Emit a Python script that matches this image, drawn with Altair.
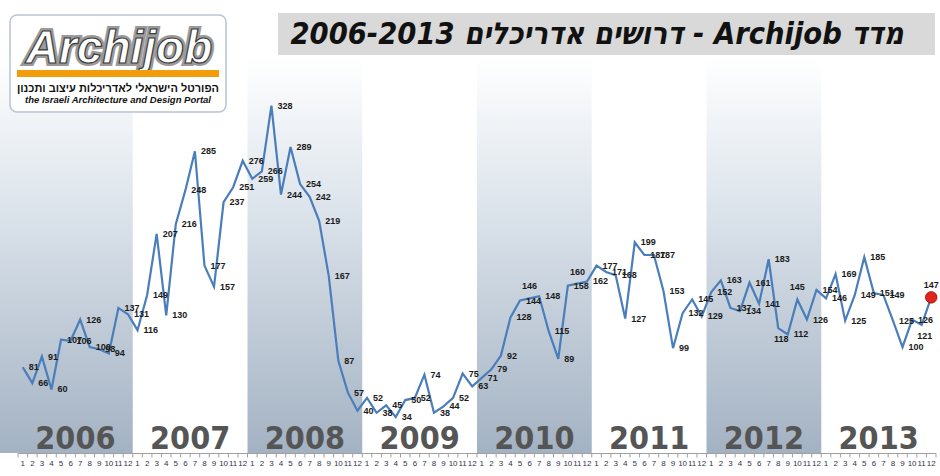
import altair as alt
import pandas as pd

years = [2006, 2007, 2008, 2009, 2010, 2011, 2012, 2013]
v2006 = [81, 66, 91, 60, 107, 106, 126, 100, 98, 94, 137, 131]
v2007 = [116, 149, 207, 130, 216, 248, 285, 177, 157, 237, 251, 276]
v2008 = [259, 266, 328, 244, 289, 254, 242, 219, 167, 87, 57, 40]
v2009 = [52, 38, 45, 34, 50, 52, 74, 38, 44, 52, 75, 63]
v2010 = [71, 79, 92, 128, 144, 146, 148, 115, 89, 158, 160, 162]
v2011 = [177, 171, 168, 127, 199, 187, 187, 153, 99, 132, 145, 129]
v2012 = [152, 163, 137, 134, 161, 141, 183, 118, 112, 145, 126, 154]
v2013 = [146, 169, 125, 149, 185, 151, 149, 125, 100, 126, 121, 147]
month_labels = [str(m) for m in range(1, 13)]

title_text = "מדד Archijob - דרושים אדריכלים  2006-2013"
logo_name = "Archijob"
logo_he = "הפורטל הישראלי לאדריכלות עיצוב ותכנון"
logo_en = "the Israeli Architecture and Design Portal"

values = v2006 + v2007 + v2008 + v2009 + v2010 + v2011 + v2012 + v2013
n = len(values)
df = pd.DataFrame({
    "idx": [i + 0.5 for i in range(n)],
    "value": values,
    "label": [str(v) for v in values],
    "month": month_labels * len(years),
})
# which data labels sit above / below their point instead of to the right
above_pos = [53, 58, 81, 95]
below_pos = [79, 94]
pos = list(range(n))
df_above = df[[p in above_pos for p in pos]]
df_below = df[[p in below_pos for p in pos]]
df_right = df[[(p not in above_pos) and (p not in below_pos) for p in pos]]
df_last = df.iloc[n - 1 :]

df_years = pd.DataFrame({
    "year": [str(y) for y in years],
    "start": [12 * k for k in range(len(years))],
    "end": [12 * k + 12 for k in range(len(years))],
    "mid": [12 * k + 6 for k in range(len(years))],
    "shade": [k % 2 == 0 for k in range(len(years))],
})
df_shade = df_years[df_years["shade"]]
df_bounds = pd.DataFrame({"b": list(range(0, n + 1))})
one = df_years.head(1)

xs = alt.Scale(domain=[0, n], range=[18, 936], nice=False, zero=False)
ys = alt.Scale(domain=[0, 374], range=[453, 57], nice=False, zero=False)
X = alt.X("idx:Q", scale=xs, axis=None)
Y = alt.Y("value:Q", scale=ys, axis=None)

grad = alt.Gradient(
    gradient="linear",
    stops=[alt.GradientStop(color="#ffffff", offset=0),
           alt.GradientStop(color="#dfe6ed", offset=0.35),
           alt.GradientStop(color="#a3b2c3", offset=1)],
    x1=0, x2=0, y1=0, y2=1,
)

band_edge = alt.Chart(one).mark_rect(color=grad).encode(
    x=alt.value(0), x2=alt.value(18), y=alt.value(57), y2=alt.value(453))

bands = alt.Chart(df_shade).mark_rect(color=grad).encode(
    x=alt.X("start:Q", scale=xs, axis=None),
    x2="end:Q",
    y=alt.value(57), y2=alt.value(453))

year_text = alt.Chart(df_years).mark_text(
    font="DejaVu Sans Condensed, Liberation Sans Narrow, sans-serif",
    fontSize=32, fontWeight="bold", color="#555555", baseline="alphabetic", align="center"
).encode(x=alt.X("mid:Q", scale=xs, axis=None), y=alt.value(449), text="year:N")

axis_line = alt.Chart(one).mark_rule(color="#a0a0a0", strokeWidth=1).encode(
    x=alt.value(18), x2=alt.value(936), y=alt.value(453.5))

ticks = alt.Chart(df_bounds).mark_rule(color="#a0a0a0", strokeWidth=1).encode(
    x=alt.X("b:Q", scale=xs, axis=None), y=alt.value(453.5), y2=alt.value(457.5))

month_text = alt.Chart(df).mark_text(
    font="Liberation Sans, Arial, sans-serif", fontSize=8, color="#33334d", baseline="middle"
).encode(x=X, y=alt.value(464), text="month:N")

line = alt.Chart(df).mark_line(color="#4a7ebb", strokeWidth=2.2).encode(x=X, y=Y)

label_style = dict(font="Liberation Sans, Arial, sans-serif", fontSize=9,
                   fontWeight="bold", color="#1a1a1a")

labels = alt.Chart(df_right).mark_text(
    align="left", baseline="middle", dx=6, **label_style
).encode(x=X, y=Y, text="label:N")

labels_above = alt.Chart(df_above).mark_text(
    align="center", baseline="middle", dy=-12, **label_style
).encode(x=X, y=Y, text="label:N")

labels_below = alt.Chart(df_below).mark_text(
    align="center", baseline="middle", dx=3, dy=11, **label_style
).encode(x=X, y=Y, text="label:N")

dot = alt.Chart(df_last).mark_point(
    filled=True, size=130, color="#e3241c", stroke="#a81510", strokeWidth=1, opacity=1
).encode(x=X, y=Y)

title_box = alt.Chart(one).mark_rect(color="#d9d9d9").encode(
    x=alt.value(278), x2=alt.value(935), y=alt.value(13), y2=alt.value(55))

title = alt.Chart(one).mark_text(
    font="DejaVu Sans Condensed, Liberation Sans Narrow, sans-serif",
    fontSize=30.5, fontWeight="bold", fontStyle="italic", color="#111111",
    align="center", baseline="middle"
).encode(x=alt.value(597), y=alt.value(35), text=alt.value("\u202b" + title_text + "\u202c"))

logo_box = alt.Chart(one).mark_rect(
    color="#ffffff", stroke="#b9c5d2", strokeWidth=1.5, cornerRadius=7
).encode(x=alt.value(10), x2=alt.value(226), y=alt.value(15), y2=alt.value(112))

logo_halo = alt.Chart(one).mark_text(
    font="Liberation Sans, Arial, sans-serif", fontSize=46, fontWeight="bold",
    fontStyle="italic", color="#9a9a9a", stroke="#9a9a9a", strokeWidth=6,
    align="center", baseline="alphabetic"
).encode(x=alt.value(119), y=alt.value(63), text=alt.value(logo_name))

logo_word = alt.Chart(one).mark_text(
    font="Liberation Sans, Arial, sans-serif", fontSize=46, fontWeight="bold",
    fontStyle="italic", color="#ffffff", stroke="#3a3a3a", strokeWidth=1.2,
    align="center", baseline="alphabetic"
).encode(x=alt.value(119), y=alt.value(63), text=alt.value(logo_name))

logo_bar = alt.Chart(one).mark_rect(color="#f29e0c").encode(
    x=alt.value(17), x2=alt.value(219), y=alt.value(70), y2=alt.value(77))

logo_he_t = alt.Chart(one).mark_text(
    font="Liberation Sans, Arial, sans-serif", fontSize=11, fontWeight="bold",
    color="#111111", align="center", baseline="middle"
).encode(x=alt.value(118), y=alt.value(89), text=alt.value(logo_he))

logo_en_t = alt.Chart(one).mark_text(
    font="Liberation Sans, Arial, sans-serif", fontSize=9.5, fontWeight="bold",
    fontStyle="italic", color="#111111", align="center", baseline="middle"
).encode(x=alt.value(118), y=alt.value(100), text=alt.value(logo_en))

chart = alt.layer(
    band_edge, bands, year_text, axis_line, ticks, month_text, line,
    labels, labels_above, labels_below, dot,
    title_box, title, logo_box, logo_halo, logo_word, logo_bar, logo_he_t, logo_en_t
).properties(
    width=940, height=476, padding=0,
    autosize=alt.AutoSizeParams(type="none"),
    background="#ffffff",
).configure_view(stroke=None)

chart.save("out.html", embed_options={"renderer": "svg", "actions": False})
